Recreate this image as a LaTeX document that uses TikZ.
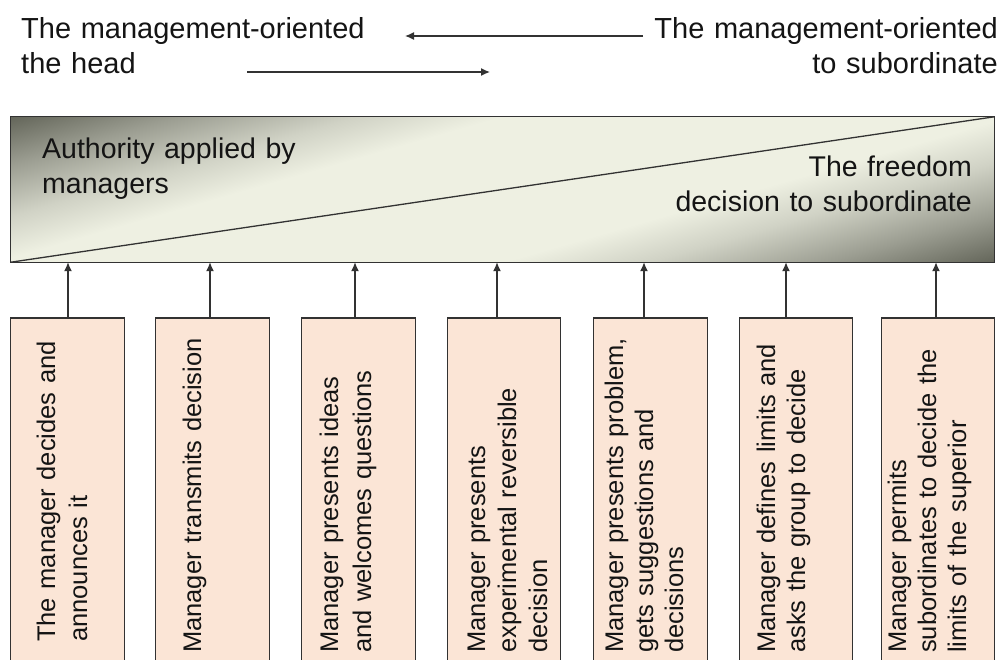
\documentclass[tikz,border=0pt]{standalone}
\usepackage{fontspec}
\setmainfont{Liberation Sans}
\usetikzlibrary{arrows.meta}
\definecolor{bardark}{RGB}{100,102,90}
\definecolor{barmid}{RGB}{155,157,145}
\definecolor{barlmid}{RGB}{208,210,197}
\definecolor{barlight}{RGB}{238,240,226}
\definecolor{boxfill}{RGB}{251,229,214}
\definecolor{edge}{RGB}{50,50,50}
\definecolor{ink}{RGB}{20,20,20}
\pgfdeclareverticalshading{barshade}{100bp}{color(0bp)=(bardark); color(25.6bp)=(bardark); color(31bp)=(barmid); color(36.9bp)=(barlmid); color(41.7bp)=(barlight); color(58.3bp)=(barlight); color(63.1bp)=(barlmid); color(69bp)=(barmid); color(74.4bp)=(bardark); color(100bp)=(bardark)}
\begin{document}
\begin{tikzpicture}[x=1pt,y=-1pt,
  toptext/.style={font=\fontsize{29}{35}\selectfont, text=ink, inner sep=0pt, text width=360pt},
  bartext/.style={font=\fontsize{28.5}{35.5}\selectfont, text=ink, inner sep=0pt, text width=340pt},
  boxtext/.style={font=\fontsize{25.5}{31}\selectfont, text=ink, inner sep=0pt, rotate=90, anchor=base west, text width=330pt, align=left},
  stepbox/.style={draw=edge, line width=1.3pt, fill=boxfill, minimum width=113.5pt, minimum height=362pt, inner sep=0pt},
  barbox/.style={inner sep=0pt, minimum width=983pt, minimum height=145pt},
  arr/.style={-{Latex[length=9pt,width=8pt]}, line width=1.3pt, draw=edge},
  conn/.style={line width=1.3pt, draw=edge},
]
\useasboundingbox (0,0) rectangle (1003,659);
\clip (0,0) rectangle (1003,659);

% top labels and arrows
\node[toptext, align=left, anchor=base west] (tl) at (21,38) {The management-oriented\\the head};
\node[toptext, align=right, anchor=base east] (tr) at (998,38) {The management-oriented\\to subordinate};
\coordinate (ua1) at (643,36);
\coordinate (ua2) at (405,36);
\coordinate (la1) at (247,72);
\coordinate (la2) at (490,72);
\draw[arr] (ua1) -- (ua2);
\draw[arr] (la1) -- (la2);

% gradient bar
\node[barbox] (bar) at (502.5,189.5) {};
\begin{scope}
  \clip (bar.south west) rectangle (bar.north east);
  \begin{scope}[transform canvas={rotate around={16:(bar.center)}}]
    \shade[shading=barshade] (-97.5,-20.5) rectangle (1102.5,399.5);
  \end{scope}
\end{scope}
\draw[conn] (bar.south west) rectangle (bar.north east);
\draw[conn] (bar.south west) -- (bar.north east);
\node[bartext, align=left, anchor=base west] (auth) at (42,158) {Authority applied by\\managers};
\node[bartext, align=right, anchor=base east] (free) at (972,176) {The freedom\\decision to subordinate};

% boxes
\node[stepbox] (b1) at (67.5,499) {};
\node[stepbox] (b2) at (212.5,499) {};
\node[stepbox] (b3) at (358.5,499) {};
\node[stepbox] (b4) at (504,499) {};
\node[stepbox] (b5) at (650.5,499) {};
\node[stepbox] (b6) at (796,499) {};
\node[stepbox] (b7) at (938,499) {};

\node[boxtext, font=\fontsize{25.5}{32}\selectfont] (t1) at (55,642) {The manager decides and\\announces it};
\node[boxtext] (t2) at (201,653) {Manager transmits decision};
\node[boxtext, font=\fontsize{25.5}{33}\selectfont] (t3) at (338,653) {Manager presents ideas\\and welcomes questions};
\node[boxtext] (t4) at (485,653) {Manager presents\\experimental reversible\\decision};
\node[boxtext, font=\fontsize{25.5}{30}\selectfont] (t5) at (623,653) {Manager presents problem,\\gets suggestions and\\decisions};
\node[boxtext, font=\fontsize{25.5}{30}\selectfont] (t6) at (775,653) {Manager defines limits and\\asks the group to decide};
\node[boxtext, font=\fontsize{25.5}{30}\selectfont] (t7) at (906,653) {Manager permits\\subordinates to decide the\\limits of the superior};

% arrows from boxes to bar
\coordinate (x1) at (68,0);
\coordinate (x2) at (210,0);
\coordinate (x3) at (355,0);
\coordinate (x4) at (497,0);
\coordinate (x5) at (644,0);
\coordinate (x6) at (786,0);
\coordinate (x7) at (936,0);
\foreach \i in {1,...,7}{
  \draw[arr] (b\i.north -| x\i) -- (bar.south -| x\i);
}
\end{tikzpicture}
\end{document}
